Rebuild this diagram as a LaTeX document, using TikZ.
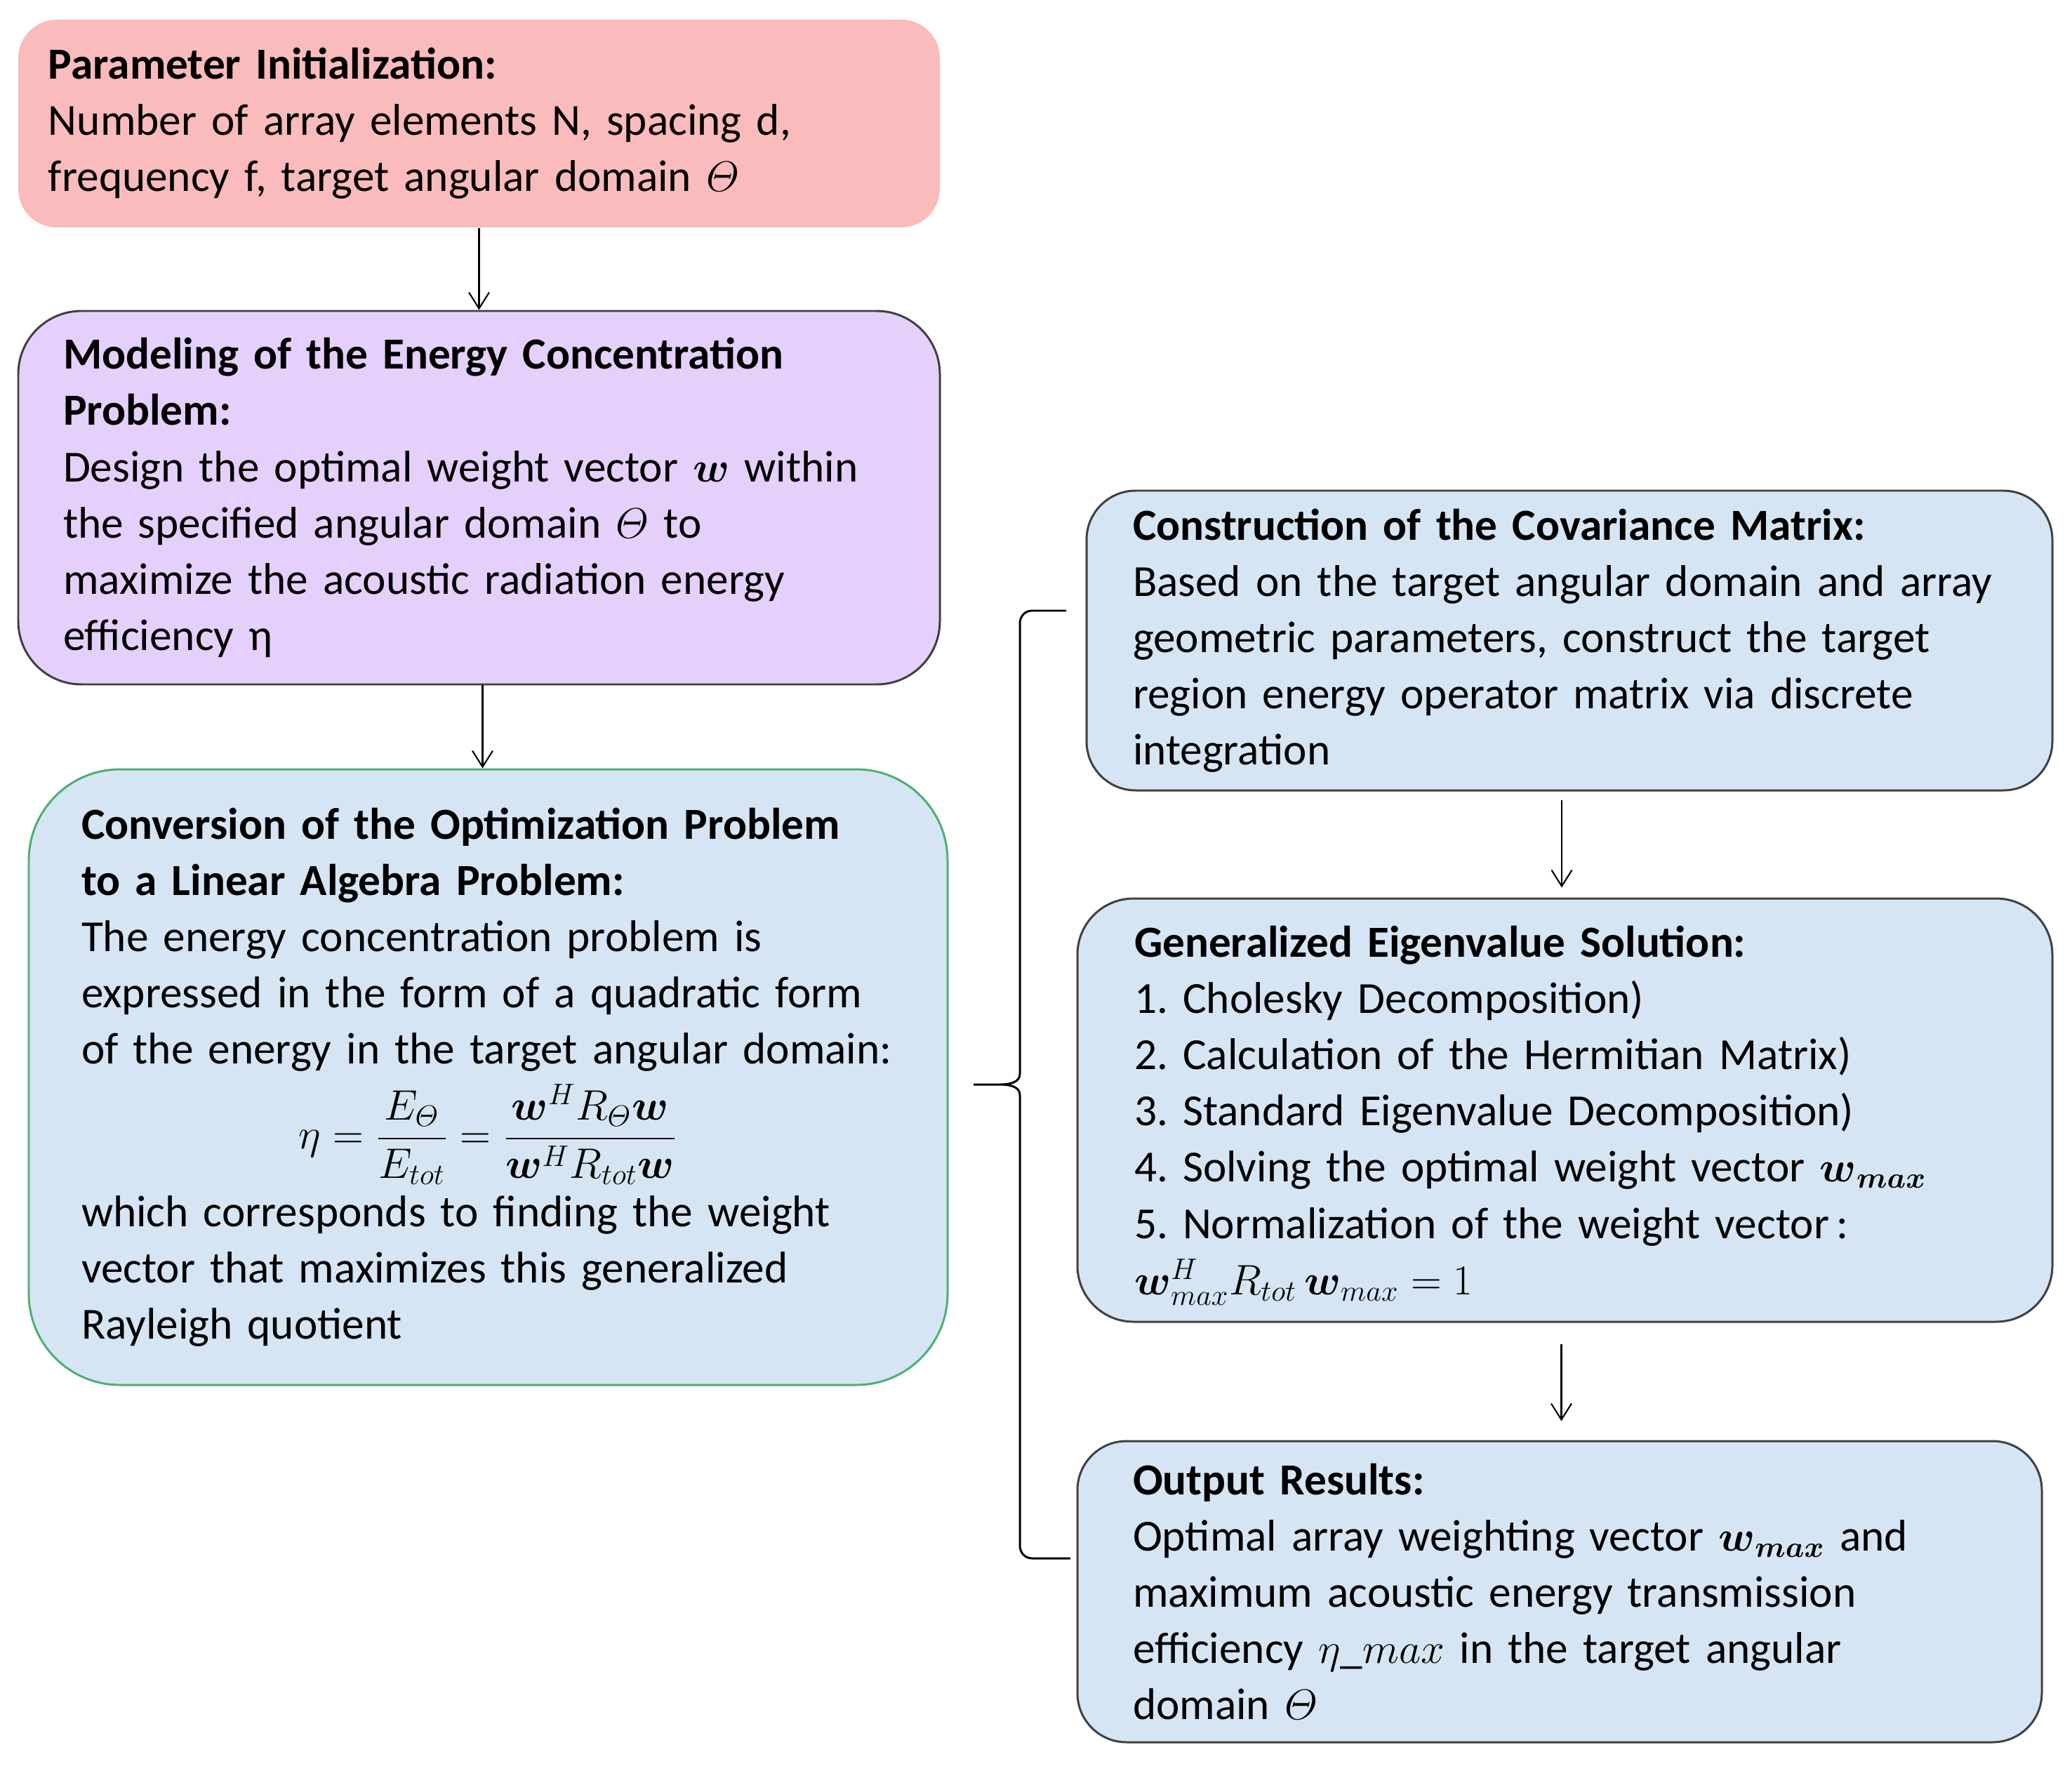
\documentclass[tikz,border=0pt]{standalone}
\usepackage{amsmath}
\usepackage[no-math]{fontspec}
\setmainfont{Carlito}
\usetikzlibrary{arrows.meta}
\definecolor{pinkc}{HTML}{F9BBBB}
\definecolor{purplec}{HTML}{E4D0FA}
\definecolor{bluec}{HTML}{D6E5F3}
\definecolor{greenc}{HTML}{4CB070}
\definecolor{edgec}{HTML}{404040}
\newcommand\oneline[1]{\mbox{#1}}
\begin{document}
\begin{tikzpicture}[
  box/.style={rectangle, align=left, inner ysep=0pt, line width=0.85pt,
    font=\fontsize{18}{22.8}\selectfont\frenchspacing, anchor=center},
  arr/.style={line width=0.6pt, -{Straight Barb[length=2.3mm,width=2.9mm]}},
  bracel/.style={line width=0.85pt}
]
\useasboundingbox (0,0) rectangle (29.52,-25.23);

\node[box, fill=pinkc, draw=none, rounded corners=0.55cm, minimum height=2.96cm,
  text width=12.27cm, inner xsep=0.43cm] (p) at (6.825,-1.76)
  {\oneline{\textbf{Parameter Initialization:}}\\
   \oneline{Number of array elements N, spacing d,}\\
   \oneline{frequency f, target angular domain $\varTheta$}};

\node[box, fill=purplec, draw=edgec, rounded corners=0.9cm, minimum height=5.32cm,
  text width=11.85cm, inner xsep=0.64cm] (m) at (6.825,-7.09)
  {\oneline{\textbf{Modeling of the Energy Concentration}}\\
   \oneline{\textbf{Problem:}}\\
   \oneline{Design the optimal weight vector $\boldsymbol{w}$ within}\\
   \oneline{the specified angular domain $\varTheta$ to}\\
   \oneline{maximize the acoustic radiation energy}\\
   \oneline{efficiency η}};

\node[box, fill=bluec, draw=greenc, rounded corners=1.3cm, minimum height=8.77cm,
  text width=11.59cm, inner xsep=0.75cm] (c) at (6.955,-15.345)
  {\oneline{\textbf{Conversion of the Optimization Problem}}\\
   \oneline{\textbf{to a Linear Algebra Problem:}}\\
   \oneline{The energy concentration problem is}\\
   \oneline{expressed in the form of a quadratic form}\\
   \oneline{of the energy in the target angular domain:}\\[0.41cm]
   \makebox[\linewidth][c]{\smash{$\displaystyle \eta=\frac{E_{\varTheta}}{E_{tot}}=\frac{\boldsymbol{w}^{H}R_{\varTheta}\boldsymbol{w}}{\boldsymbol{w}^{H}R_{tot}\boldsymbol{w}}$}}\\[0.3cm]
   \oneline{which corresponds to finding the weight}\\
   \oneline{vector that maximizes this generalized}\\
   \oneline{Rayleigh quotient}};

\node[box, fill=bluec, draw=edgec, rounded corners=0.7cm, minimum height=4.27cm,
  text width=12.44cm, inner xsep=0.66cm] (r1) at (22.36,-9.125)
  {\oneline{\textbf{Construction of the Covariance Matrix:}}\\
   \oneline{Based on the target angular domain and array}\\
   \oneline{geometric parameters, construct the target}\\
   \oneline{region energy operator matrix via discrete}\\
   \oneline{integration}};

\node[box, fill=bluec, draw=edgec, rounded corners=0.8cm, minimum height=6.03cm,
  text width=12.27cm, inner xsep=0.81cm] (r2) at (22.295,-15.815)
  {\oneline{\textbf{Generalized Eigenvalue Solution:}}\\
   \oneline{1. Cholesky Decomposition)}\\
   \oneline{2. Calculation of the Hermitian Matrix)}\\
   \oneline{3. Standard Eigenvalue Decomposition)}\\
   \oneline{4. Solving the optimal weight vector \smash{$\boldsymbol{w}_{\boldsymbol{max}}$}}\\
   \oneline{5. Normalization of the weight vector\,:}\\
   \oneline{\smash{$\boldsymbol{w}^{H}_{max}R_{tot}\,\boldsymbol{w}_{max}=1$}}};

\node[box, fill=bluec, draw=edgec, rounded corners=0.7cm, minimum height=4.29cm,
  text width=12.16cm, inner xsep=0.79cm] (r3) at (22.22,-22.675)
  {\oneline{\textbf{Output Results:}}\\
   \oneline{Optimal array weighting vector \smash{$\boldsymbol{w}_{\boldsymbol{max}}$} and}\\
   \oneline{maximum acoustic energy transmission}\\
   \oneline{efficiency $\eta\_max$ in the target angular}\\
   \oneline{domain $\varTheta$}};

\draw[arr] (p.south) -- (m.north);
\draw[arr] ([xshift=0.05cm]m.south) -- ([xshift=0.05cm]m.south |- c.north);
\draw[arr] ([xshift=-0.11cm,yshift=-0.12cm]r1.south) -- ([xshift=-0.11cm,yshift=0.14cm]r1.south |- r2.north);
\draw[arr] ([xshift=-0.05cm,yshift=-0.3cm]r2.south) -- ([xshift=-0.05cm,yshift=0.27cm]r2.south |- r3.north);

\coordinate (bt) at (15.19,-8.70);
\coordinate (bm) at (13.87,-15.45);
\coordinate (bb) at (15.25,-22.20);
\draw[bracel] (bt) -- (14.70,-8.70) to[out=180,in=90] (14.53,-8.88)
  -- (14.53,-15.30) to[out=-90,in=0] (14.25,-15.45) -- (bm)
  -- (14.25,-15.45) to[out=0,in=90] (14.53,-15.60)
  -- (14.53,-22.02) to[out=-90,in=180] (14.70,-22.20) -- (bb);
\end{tikzpicture}
\end{document}
